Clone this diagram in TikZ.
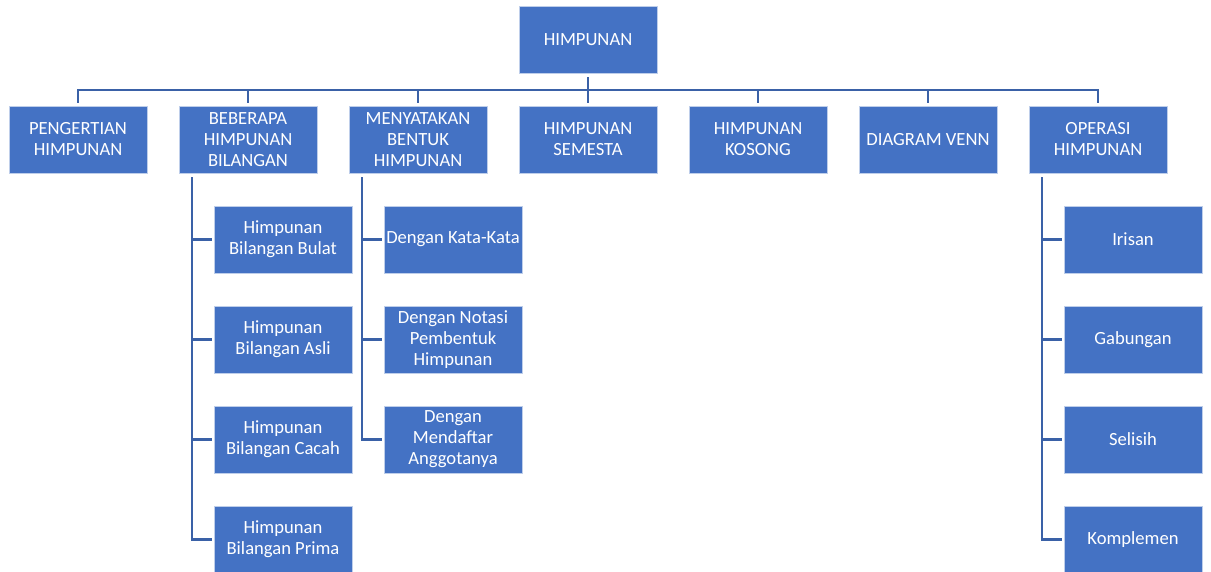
\documentclass[tikz,border=0pt]{standalone}
\usepackage{fontspec}
\setmainfont{Carlito}
\usetikzlibrary{calc}
\definecolor{boxblue}{HTML}{4472C4}
\definecolor{linkblue}{HTML}{3A61A7}
\tikzset{
  box/.style={rectangle, fill=boxblue, draw=white!65!boxblue, line width=0.6pt,
    minimum width=138pt, minimum height=67pt, inner sep=0pt, text=white,
    align=center, font=\fontsize{18.6}{21}\selectfont},
  conn/.style={draw=linkblue, line width=2.4pt},
}
\begin{document}
\begin{tikzpicture}[x=1pt,y=1pt]
\useasboundingbox[fill=white] (0,0) rectangle (1211,-572);
% top
\node[box] (top) at (588,-39.5) {HIMPUNAN};
% level 1
\node[box] (a) at (78,-139.5) {PENGERTIAN\\HIMPUNAN};
\node[box] (b) at (248,-139.5) {BEBERAPA\\HIMPUNAN\\BILANGAN};
\node[box] (c) at (418,-139.5) {MENYATAKAN\\BENTUK\\HIMPUNAN};
\node[box] (d) at (588,-139.5) {HIMPUNAN\\SEMESTA};
\node[box] (e) at (758,-139.5) {HIMPUNAN\\KOSONG};
\node[box] (f) at (928,-139.5) {DIAGRAM VENN};
\node[box] (g) at (1098,-139.5) {OPERASI\\HIMPUNAN};
% children of b
\node[box] (b1) at (283,-239.5) {Himpunan\\Bilangan Bulat};
\node[box] (b2) at (283,-339.5) {Himpunan\\Bilangan Asli};
\node[box] (b3) at (283,-439.5) {Himpunan\\Bilangan Cacah};
\node[box] (b4) at (283,-539.5) {Himpunan\\Bilangan Prima};
% children of c
\node[box] (c1) at (453,-239.5) {Dengan Kata-Kata};
\node[box] (c2) at (453,-339.5) {Dengan Notasi\\Pembentuk\\Himpunan};
\node[box] (c3) at (453,-439.5) {Dengan\\Mendaftar\\Anggotanya};
% children of g
\node[box] (g1) at (1133,-239.5) {Irisan};
\node[box] (g2) at (1133,-339.5) {Gabungan};
\node[box] (g3) at (1133,-439.5) {Selisih};
\node[box] (g4) at (1133,-539.5) {Komplemen};
% connectors level 1
\foreach \n in {a,b,c,d,e,f,g}{
  \draw[conn, shorten <=4pt, shorten >=3pt] (top.south) -- ++(0,-16.5) -| (\n.north);
}
% sub connectors
\foreach \p/\kids in {b/{b1,b2,b3,b4}, c/{c1,c2,c3}, g/{g1,g2,g3,g4}}{
  \foreach \k in \kids{
    \draw[conn, shorten <=4pt, shorten >=2pt] ($(\p.south west)+(13,0)$) |- (\k.west);
  }
}
\end{tikzpicture}
\end{document}
